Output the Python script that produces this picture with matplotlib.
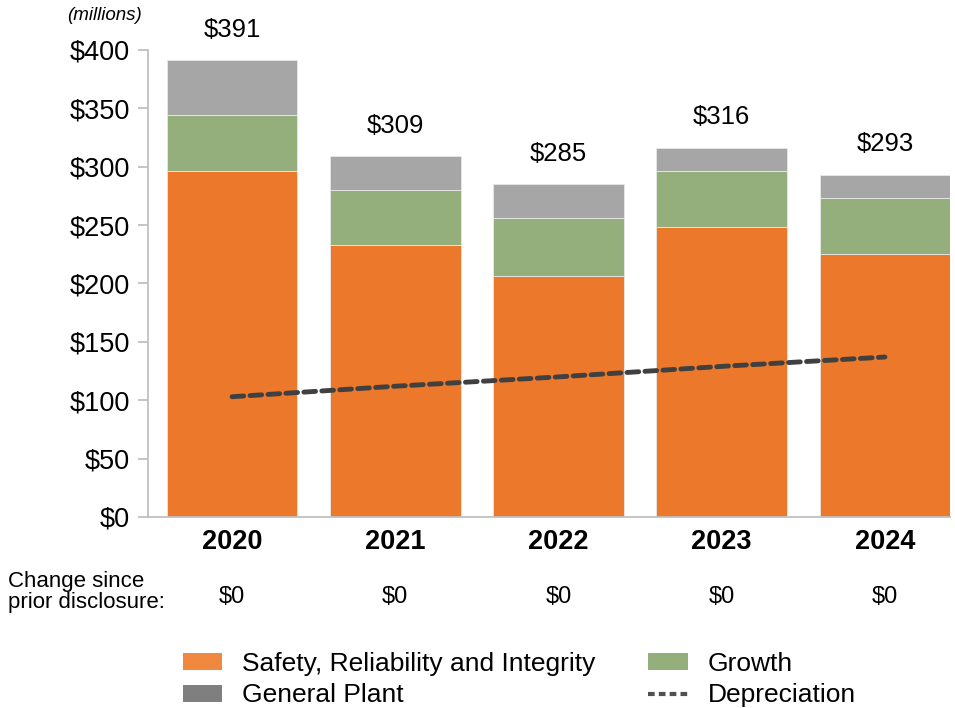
import matplotlib
matplotlib.use('Agg')
import matplotlib.pyplot as plt
from matplotlib.patches import Patch
from matplotlib.lines import Line2D
import numpy as np

plt.rcParams['font.family'] = ['Liberation Sans', 'DejaVu Sans']

# data (millions)
years = ['2020', '2021', '2022', '2023', '2024']
safety = [296, 233, 206, 248, 225]
growth = [48, 47, 50, 48, 48]
general = [47, 29, 29, 20, 20]
depreciation = [103, 112, 120, 129, 137]
change = ['$0', '$0', '$0', '$0', '$0']

c_orange = '#EC782B'
c_green = '#94AE7C'
c_gray = '#A6A6A6'

fig = plt.figure(figsize=(9.55, 7.08), dpi=100)
ax = fig.add_axes([0.155, 0.2698, 0.84, 0.6596])

x = np.arange(len(years))
w = 0.8
ax.bar(x, safety, w, color=c_orange, edgecolor='#e8e8e8', linewidth=0.6, zorder=2)
ax.bar(x, growth, w, bottom=safety, color=c_green, edgecolor='#e8e8e8', linewidth=0.6, zorder=2)
bot2 = np.array(safety) + np.array(growth)
ax.bar(x, general, w, bottom=bot2, color=c_gray, edgecolor='#e8e8e8', linewidth=0.6, zorder=2)
totals = bot2 + np.array(general)

ax.plot(x, depreciation, color='#404040', lw=3.5, dashes=(2.4, 1.3),
        solid_capstyle='round', dash_capstyle='round', zorder=3)

for i, t in enumerate(totals):
    ax.text(x[i], t + 16, '$%d' % t, ha='center', va='bottom', fontsize=18.5)

ax.set_xlim(-0.515, 4.4)
ax.set_ylim(0, 400)
ax.set_yticks(np.arange(0, 401, 50))
ax.set_yticklabels(['$%d' % v for v in range(0, 401, 50)], fontsize=19.5)
ax.set_xticks(x)
ax.set_xticklabels(years, fontsize=19.5, fontweight='bold')

for s in ['top', 'right']:
    ax.spines[s].set_visible(False)
ax.spines['left'].set_color('#C0C0C0')
ax.spines['bottom'].set_color('#C0C0C0')
ax.spines['left'].set_linewidth(1.3)
ax.spines['bottom'].set_linewidth(1.3)
ax.tick_params(axis='y', color='#C0C0C0', length=7, width=1.3, pad=6)
ax.tick_params(axis='x', length=0, pad=9)

fig.text(67 / 955, 1 - 15 / 708, '(millions)', fontsize=13.5, style='italic',
         ha='left', va='center')

fig.text(8 / 955, 1 - 592 / 708, 'Change since\nprior disclosure:', fontsize=16,
         ha='left', va='center', linespacing=0.95)
for i, c in enumerate(change):
    xf = ax.transData.transform((x[i], 0))[0] / fig.bbox.width
    fig.text(xf, 1 - 597 / 708, c, fontsize=17, ha='center', va='center')

handles = [Patch(facecolor='#F0883F', label='Safety, Reliability and Integrity'),
           Patch(facecolor='#7F7F7F', label='General Plant'),
           Patch(facecolor=c_green, label='Growth'),
           Line2D([0], [0], color='#505050', lw=3, dashes=(1.6, 1.0),
                  label='Depreciation')]
fig.legend(handles=handles, ncol=2, frameon=False, fontsize=19,
           loc='upper left', bbox_to_anchor=(172 / 955, 1 - 641 / 708),
           handlelength=1.5, handleheight=0.6, handletextpad=0.75,
           columnspacing=2.0, labelspacing=0.3, borderaxespad=0)

fig.savefig('out.png', dpi=100)
